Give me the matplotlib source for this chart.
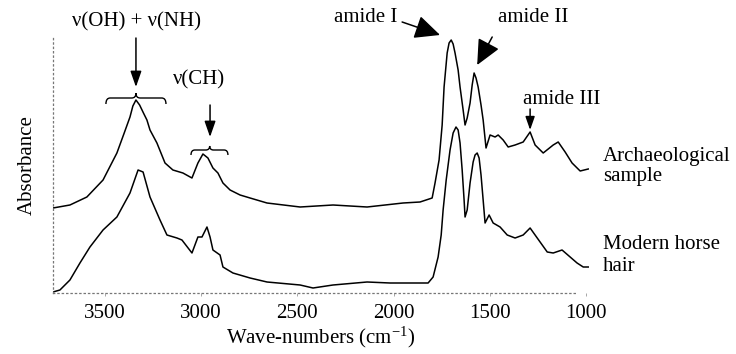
import matplotlib
matplotlib.use("Agg")
import matplotlib.pyplot as plt
from matplotlib.path import Path
from matplotlib.patches import PathPatch, ArrowStyle

plt.rcParams['font.family'] = ['Liberation Serif', 'DejaVu Serif']
plt.rcParams['mathtext.fontset'] = 'custom'
plt.rcParams['mathtext.rm'] = 'Liberation Serif'
plt.rcParams['mathtext.it'] = 'Liberation Serif:italic'

# FTIR spectra (wavenumber in cm-1, absorbance in arbitrary units, offset)
arch_wn = [3770, 3682, 3594, 3510, 3438, 3400, 3370, 3355, 3339, 3320, 3300,
           3282, 3266, 3230, 3188, 3147, 3095, 3048, 3017, 2991, 2965, 2939,
           2913, 2887, 2850, 2798, 2746, 2658, 2486, 2315, 2138, 1951, 1863,
           1800, 1785, 1764, 1748, 1738, 1722, 1712, 1701, 1691, 1681, 1665,
           1655, 1639, 1629, 1618, 1603, 1592, 1582, 1572, 1561, 1546, 1535,
           1520, 1499, 1473, 1457, 1431, 1405, 1369, 1327, 1291, 1265, 1223,
           1171, 1145, 1109, 1073, 1031, 989]
arch_abs = [0.85, 0.88, 0.96, 1.13, 1.40, 1.60, 1.76, 1.87, 1.93, 1.88, 1.80,
            1.73, 1.63, 1.50, 1.30, 1.23, 1.20, 1.15, 1.30, 1.39, 1.35, 1.25,
            1.20, 1.10, 1.03, 0.98, 0.95, 0.90, 0.86, 0.88, 0.86, 0.90, 0.91,
            0.95, 1.10, 1.33, 1.68, 2.06, 2.40, 2.50, 2.53, 2.49, 2.40, 2.23,
            2.06, 1.83, 1.68, 1.75, 1.90, 2.08, 2.20, 2.15, 2.06, 1.88, 1.73,
            1.45, 1.58, 1.56, 1.58, 1.53, 1.46, 1.48, 1.51, 1.61, 1.48, 1.40,
            1.48, 1.51, 1.41, 1.30, 1.22, 1.24]

modern_wn = [3770, 3734, 3682, 3630, 3578, 3510, 3438, 3370, 3328, 3302, 3266,
             3214, 3178, 3126, 3100, 3048, 3017, 2996, 2970, 2954, 2939, 2902,
             2887, 2835, 2746, 2658, 2486, 2419, 2315, 2138, 2019, 1821, 1795,
             1769, 1753, 1743, 1727, 1707, 1691, 1676, 1665, 1655, 1644, 1634,
             1629, 1618, 1603, 1587, 1577, 1566, 1556, 1546, 1535, 1525, 1504,
             1483, 1447, 1410, 1369, 1327, 1291, 1254, 1202, 1171, 1125, 1083,
             1047, 1015, 989]
modern_abs = [0.01, 0.03, 0.13, 0.30, 0.46, 0.63, 0.76, 1.00, 1.23, 1.21, 0.96,
              0.73, 0.58, 0.55, 0.53, 0.40, 0.56, 0.56, 0.66, 0.56, 0.43, 0.38,
              0.26, 0.20, 0.15, 0.11, 0.08, 0.05, 0.08, 0.11, 0.10, 0.10, 0.16,
              0.36, 0.58, 0.83, 1.13, 1.43, 1.60, 1.66, 1.63, 1.50, 1.23, 0.93,
              0.76, 0.83, 1.10, 1.31, 1.38, 1.40, 1.35, 1.18, 0.93, 0.70, 0.78,
              0.70, 0.66, 0.58, 0.55, 0.58, 0.65, 0.55, 0.41, 0.40, 0.43, 0.36,
              0.30, 0.26, 0.26]

xticks = [3500, 3000, 2500, 2000, 1500, 1000]

FS = 15

fig = plt.figure(figsize=(7.36, 3.54), dpi=100)
ax = fig.add_axes([53 / 736, 61 / 354, 536 / 736, 255 / 354])

ax.plot(arch_wn, arch_abs, color='black', lw=1.1)
ax.plot(modern_wn, modern_abs, color='black', lw=1.1)

ax.set_xlim(3770, 985)
ax.set_ylim(0, 2.55)

ax.set_xticks(xticks)
ax.set_xticklabels([str(t) for t in xticks], fontsize=FS)
ax.set_yticks([])
ax.tick_params(axis='x', length=2, width=0.6, color='#999999', pad=6)

for side in ('top', 'right'):
    ax.spines[side].set_visible(False)
for side in ('left', 'bottom'):
    ax.spines[side].set_linestyle((0, (1, 2.5)))
    ax.spines[side].set_linewidth(0.9)
    ax.spines[side].set_color('#777777')
ax.spines['bottom'].set_bounds(3770, 1042)

ax.set_xlabel('Wave-numbers (cm$^{-1}$)', fontsize=FS, labelpad=1)
ax.set_ylabel('Absorbance', fontsize=FS, labelpad=12)


def brace(wl, wr, wc, y, h, d):
    """Curly bracket opening downwards, tip at wc pointing up."""
    verts = [(wl, y - h), (wl, y), (wl - d, y),
             (wc + d, y), (wc, y), (wc, y + h * 0.8),
             (wc, y), (wc - d, y),
             (wr + d, y), (wr, y), (wr, y - h)]
    codes = [Path.MOVETO, Path.CURVE3, Path.CURVE3,
             Path.LINETO, Path.CURVE3, Path.CURVE3,
             Path.CURVE3, Path.CURVE3,
             Path.LINETO, Path.CURVE3, Path.CURVE3]
    ax.add_patch(PathPatch(Path(verts, codes), fill=False, lw=1.0,
                           edgecolor='black', clip_on=False))


small_head = ArrowStyle('-|>', head_length=0.8, head_width=0.28)
big_head = ArrowStyle('-|>', head_length=0.6, head_width=0.28)


def arrow(start, end, style, scale):
    ax.annotate('', xy=end, xytext=start, annotation_clip=False,
                arrowprops=dict(arrowstyle=style, mutation_scale=scale,
                                lw=1.1, color='black',
                                shrinkA=0, shrinkB=0))


# O-H / N-H stretch
ax.text(3335, 2.71, 'ν(OH) + ν(NH)', fontsize=FS, ha='center', va='center',
        clip_on=False)
arrow((3339, 2.55), (3339, 2.06), small_head, 12)
brace(3495, 3183, 3339, 1.95, 0.06, 22)

# C-H stretch
ax.text(3011, 2.13, 'ν(CH)', fontsize=FS, ha='center', va='center')
arrow((2954, 1.88), (2954, 1.56), small_head, 12)
brace(3053, 2861, 2956, 1.43, 0.05, 20)

# Amide bands
ax.text(2143, 2.76, 'amide I', fontsize=FS, ha='center', va='center',
        clip_on=False)
arrow((1956, 2.71), (1759, 2.58), big_head, 26)
ax.text(1275, 2.76, 'amide II', fontsize=FS, ha='center', va='center',
        clip_on=False)
arrow((1488, 2.56), (1566, 2.28), big_head, 26)
ax.text(1125, 1.93, 'amide III', fontsize=FS, ha='center', va='center',
        clip_on=False)
arrow((1291, 1.84), (1291, 1.63), small_head, 10)

# Series labels
fig.text(603 / 736, 1 - 166.5 / 354, 'Archaeological\nsample', fontsize=FS,
         ha='left', va='center', linespacing=1.1)
fig.text(603 / 736, 1 - 255.5 / 354, 'Modern horse\nhair', fontsize=FS,
         ha='left', va='center', linespacing=1.15)

fig.savefig('out.png', dpi=100)
